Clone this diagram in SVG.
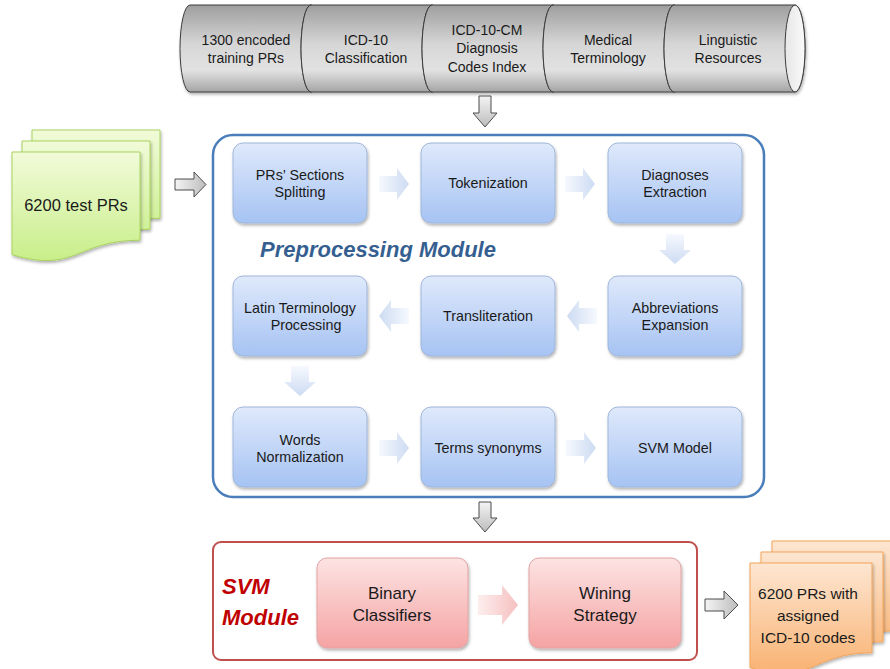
<svg xmlns="http://www.w3.org/2000/svg" width="890" height="669" viewBox="0 0 890 669">
<defs>
<linearGradient id="cylG" x1="0" y1="0" x2="0" y2="1">
<stop offset="0" stop-color="#9e9e9e"/><stop offset="0.45" stop-color="#d6d6d6"/><stop offset="0.75" stop-color="#e2e2e2"/><stop offset="1" stop-color="#a4a4a4"/>
</linearGradient>
<linearGradient id="capG" x1="0" y1="0" x2="1" y2="0">
<stop offset="0" stop-color="#e6e6e6"/><stop offset="1" stop-color="#fafafa"/>
</linearGradient>
<linearGradient id="grayA" x1="0" y1="0" x2="0" y2="1">
<stop offset="0" stop-color="#f4f4f4"/><stop offset="1" stop-color="#bdbdbd"/>
</linearGradient>
<linearGradient id="grayAd" x1="0" y1="0" x2="1" y2="0">
<stop offset="0" stop-color="#f4f4f4"/><stop offset="1" stop-color="#bdbdbd"/>
</linearGradient>
<linearGradient id="blueBox" x1="0" y1="0" x2="0" y2="1">
<stop offset="0" stop-color="#dfe9fb"/><stop offset="1" stop-color="#a6c3f3"/>
</linearGradient>
<linearGradient id="pinkBox" x1="0" y1="0" x2="0" y2="1">
<stop offset="0" stop-color="#fde3e3"/><stop offset="1" stop-color="#f5a3a3"/>
</linearGradient>
<linearGradient id="greenDoc" x1="0" y1="0" x2="0" y2="1">
<stop offset="0" stop-color="#f1fbd9"/><stop offset="1" stop-color="#c9ee8a"/>
</linearGradient>
<linearGradient id="orangeDoc" x1="0" y1="0" x2="0" y2="1">
<stop offset="0" stop-color="#fde6d2"/><stop offset="1" stop-color="#f9b272"/>
</linearGradient>
<linearGradient id="paleR" x1="0" y1="0" x2="1" y2="0">
<stop offset="0" stop-color="#f6f9fe"/><stop offset="1" stop-color="#cddbf2"/>
</linearGradient>
<linearGradient id="paleL" x1="1" y1="0" x2="0" y2="0">
<stop offset="0" stop-color="#f6f9fe"/><stop offset="1" stop-color="#cddbf2"/>
</linearGradient>
<linearGradient id="paleD" x1="0" y1="0" x2="0" y2="1">
<stop offset="0" stop-color="#f6f9fe"/><stop offset="1" stop-color="#cddbf2"/>
</linearGradient>
<linearGradient id="pinkA" x1="0" y1="0" x2="1" y2="0">
<stop offset="0" stop-color="#fdeeee"/><stop offset="1" stop-color="#f6c0c0"/>
</linearGradient>
<filter id="sh" x="-10%" y="-10%" width="125%" height="130%">
<feDropShadow dx="1" dy="2" stdDeviation="1.5" flood-color="#000" flood-opacity="0.3"/>
</filter>
<style>
text{font-family:"Liberation Sans",Arial,sans-serif;fill:#1a1a1a;text-anchor:middle}
.cyl{fill:url(#cylG);stroke:#3c3c3c;stroke-width:1}
.cap{fill:url(#capG);stroke:#3c3c3c;stroke-width:1}
.ct{font-size:14px}
.bb{fill:url(#blueBox);stroke:#9fb6da;stroke-width:1;filter:url(#sh)}
.bt{font-size:14.3px}
.pb{fill:url(#pinkBox);stroke:#e2a3a3;stroke-width:1;filter:url(#sh)}
.pt{font-size:17px}
.ga{stroke:#4d4d4d;stroke-width:1}
.pr{fill:url(#paleR)}.pl{fill:url(#paleL)}.pd{fill:url(#paleD)}
.gd{fill:url(#greenDoc);stroke:#a9d25e;stroke-width:1;filter:url(#sh)}
.od{fill:url(#orangeDoc);stroke:#f2a458;stroke-width:1;filter:url(#sh)}
</style>
</defs>

<g id="resources" filter="url(#sh)">
<path class="cyl" d="M190,5 H311 A10,43.5 0 0 1 311,92 H190 A10,43.5 0 0 1 190,5 Z"/>
<ellipse class="cap" cx="311" cy="48.5" rx="10" ry="43.5"/>
<path class="cyl" d="M311,5 H432 A10,43.5 0 0 1 432,92 H311 A10,43.5 0 0 1 311,5 Z"/>
<ellipse class="cap" cx="432" cy="48.5" rx="10" ry="43.5"/>
<path class="cyl" d="M432,5 H553 A10,43.5 0 0 1 553,92 H432 A10,43.5 0 0 1 432,5 Z"/>
<ellipse class="cap" cx="553" cy="48.5" rx="10" ry="43.5"/>
<path class="cyl" d="M553,5 H674 A10,43.5 0 0 1 674,92 H553 A10,43.5 0 0 1 553,5 Z"/>
<ellipse class="cap" cx="674" cy="48.5" rx="10" ry="43.5"/>
<path class="cyl" d="M674,5 H795 A10,43.5 0 0 1 795,92 H674 A10,43.5 0 0 1 674,5 Z"/>
<ellipse class="cap" cx="795" cy="48.5" rx="10" ry="43.5"/>
</g>
<g id="resource-texts">
<text class="ct" x="246" y="45">1300 encoded</text>
<text class="ct" x="246" y="63">training PRs</text>
<text class="ct" x="366" y="45">ICD-10</text>
<text class="ct" x="366" y="63">Classification</text>
<text class="ct" x="487" y="35">ICD-10-CM</text>
<text class="ct" x="487" y="53">Diagnosis</text>
<text class="ct" x="487" y="72">Codes Index</text>
<text class="ct" x="608" y="45">Medical</text>
<text class="ct" x="608" y="63">Terminology</text>
<text class="ct" x="728" y="45">Linguistic</text>
<text class="ct" x="728" y="63">Resources</text>
</g>

<g id="test-prs">
<path class="gd" d="M32,130 H160 V218.2 C96,218.2 96,251.8 32,232.7 Z"/>
<path class="gd" d="M22,141 H150 V229.2 C86,229.2 86,262.8 22,243.7 Z"/>
<path class="gd" d="M12,152 H140 V240.2 C76,240.2 76,273.8 12,254.7 Z"/>
<text x="76" y="211" style="font-size:16.5px">6200 test PRs</text>
</g>

<g id="preprocessing-module">
<rect x="213" y="135" width="551" height="362" rx="20" fill="#fff" stroke="#4a7ebb" stroke-width="2.5"/>
<text x="378" y="257" style="font-size:22px;font-weight:bold;font-style:italic;fill:#365f91">Preprocessing Module</text>
</g>

<g id="n-splitting"><rect class="bb" x="233" y="143" width="134" height="80" rx="10"/>
<text class="bt" x="300" y="180">PRs’ Sections</text><text class="bt" x="300" y="197">Splitting</text></g>
<g id="n-tokenization"><rect class="bb" x="421" y="143" width="134" height="80" rx="10"/>
<text class="bt" x="488" y="188">Tokenization</text></g>
<g id="n-diagnoses"><rect class="bb" x="608" y="143" width="134" height="80" rx="10"/>
<text class="bt" x="675" y="180">Diagnoses</text><text class="bt" x="675" y="197">Extraction</text></g>
<g id="n-abbreviations"><rect class="bb" x="608" y="276" width="134" height="80" rx="10"/>
<text class="bt" x="675" y="313">Abbreviations</text><text class="bt" x="675" y="330">Expansion</text></g>
<g id="n-transliteration"><rect class="bb" x="421" y="276" width="134" height="80" rx="10"/>
<text class="bt" x="488" y="321">Transliteration</text></g>
<g id="n-latin"><rect class="bb" x="233" y="276" width="134" height="80" rx="10"/>
<text class="bt" x="300" y="313">Latin Terminology</text><text class="bt" x="306" y="330">Processing</text></g>
<g id="n-words"><rect class="bb" x="233" y="407" width="134" height="80" rx="10"/>
<text class="bt" x="300" y="445">Words</text><text class="bt" x="300" y="462">Normalization</text></g>
<g id="n-terms"><rect class="bb" x="421" y="407" width="134" height="80" rx="10"/>
<text class="bt" x="488" y="453">Terms synonyms</text></g>
<g id="n-svmmodel"><rect class="bb" x="608" y="407" width="134" height="80" rx="10"/>
<text class="bt" x="675" y="453">SVM Model</text></g>

<g id="svm-module">
<rect x="213" y="542" width="484" height="118" rx="8" fill="#fff" stroke="#c0504d" stroke-width="2"/>
<text x="222" y="594" style="font-size:22px;font-weight:bold;font-style:italic;fill:#c00000;text-anchor:start">SVM</text>
<text x="222" y="625" style="font-size:22px;font-weight:bold;font-style:italic;fill:#c00000;text-anchor:start">Module</text>
</g>
<g id="n-binary"><rect class="pb" x="317" y="558" width="151" height="90" rx="10"/>
<text class="pt" x="392" y="599">Binary</text><text class="pt" x="392" y="621">Classifiers</text></g>
<g id="n-wining"><rect class="pb" x="529" y="558" width="152" height="90" rx="10"/>
<text class="pt" x="605" y="599">Wining</text><text class="pt" x="605" y="621">Strategy</text></g>

<g id="output-prs">
<path class="od" d="M772,541 H894 V630.8 C833,630.8 833,665 772,645.6 Z"/>
<path class="od" d="M761,552 H883 V641.8 C822,641.8 822,676 761,656.6 Z"/>
<path class="od" d="M750,563 H872 V652.8 C811,652.8 811,687 750,667.6 Z"/>
<text x="808" y="599" style="font-size:15.5px">6200 PRs with</text>
<text x="808" y="621" style="font-size:15.5px">assigned</text>
<text x="808" y="643" style="font-size:15.5px">ICD-10 codes</text>
</g>

<g id="connectors">
<path class="ga" fill="url(#grayA)" d="M479,96 H491 V113 H497 L485,127 L473,113 H479 Z"/>
<path class="ga" fill="url(#grayAd)" d="M175,179 H194 V172 L206,184.5 L194,197 V190 H175 Z"/>
<path class="ga" fill="url(#grayA)" d="M479,502 H491 V518 H497 L485,532 L473,518 H479 Z"/>
<path class="ga" fill="url(#grayAd)" d="M705,599 H724 V591 L738,605 L724,619 V611 H705 Z"/>
<path class="pr" d="M379,176 H397 V168 L409,184 L397,200 V192 H379 Z"/>
<path class="pr" d="M565,176 H583 V168 L595,184 L583,200 V192 H565 Z"/>
<path class="pd" d="M666,234 H684 V250 H691 L675,264 L659,250 H666 Z"/>
<path class="pl" d="M597,308 H579 V300 L567,316 L579,332 V324 H597 Z"/>
<path class="pl" d="M409,308 H391 V300 L379,316 L391,332 V324 H409 Z"/>
<path class="pd" d="M291,366 H309 V382 H316 L300,396 L284,382 H291 Z"/>
<path class="pr" d="M379,440 H397 V432 L409,448 L397,464 V456 H379 Z"/>
<path class="pr" d="M566,440 H584 V432 L596,448 L584,464 V456 H566 Z"/>
<path fill="url(#pinkA)" d="M478,595 H502 V585 L518,605 L502,625 V615 H478 Z"/>
</g>
</svg>
